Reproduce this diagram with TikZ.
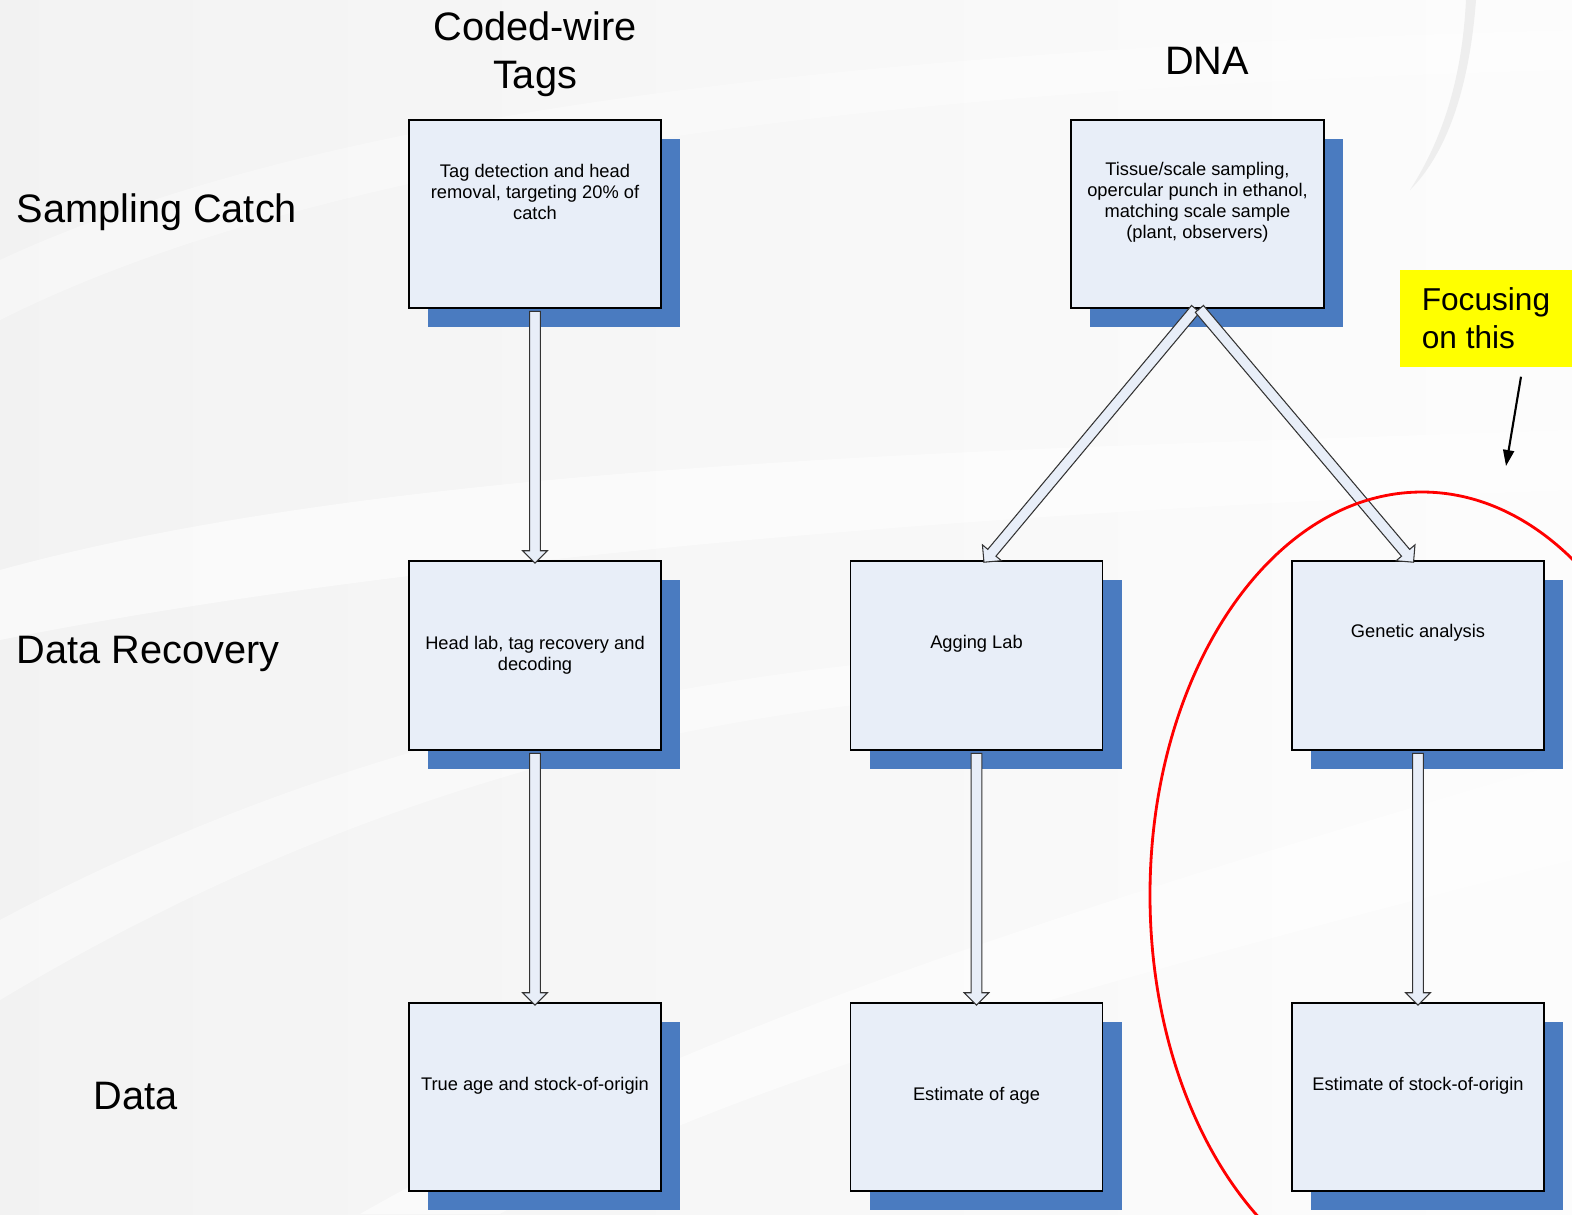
\documentclass[tikz,border=0pt]{standalone}
\usepackage{fontspec}
\setmainfont{Liberation Sans}
\usetikzlibrary{shapes.arrows,arrows.meta,positioning,calc,shadows}

\definecolor{boxfill}{RGB}{232,238,248}
\definecolor{shadowblue}{RGB}{74,123,192}
\definecolor{marker}{RGB}{255,255,0}

% hollow block arrow between two points
\newcommand{\flowarrow}[3]{%
  \path let \p1=(#2), \p2=(#3), \n1={veclen(\x2-\x1,\y2-\y1)}, \n2={atan2(\y2-\y1,\x2-\x1)} in
    node[flow, minimum height=\n1, rotate=\n2] (#1) at ($(\p1)!0.5!(\p2)$) {};}

\begin{document}
\begin{tikzpicture}[
    box/.style={rectangle, draw=black, line width=0.35pt, fill=boxfill, minimum width=2.52cm, minimum height=1.88cm, inner sep=0pt,
                drop shadow={shadow xshift=0.19cm, shadow yshift=-0.19cm, fill=shadowblue, opacity=1}},
    txt/.style={font=\fontsize{5.2}{6}\selectfont, align=center, inner sep=0pt},
    head/.style={font=\fontsize{11.3}{13.6}\selectfont, align=center, inner sep=0pt},
    flow/.style={single arrow, draw=black!80, line width=0.3pt, fill=boxfill, inner xsep=0pt, inner ysep=0.048cm,
                 single arrow head extend=0.07cm, single arrow tip angle=90, outer sep=0pt},
    focusbox/.style={fill=marker, font=\fontsize{9}{10.8}\selectfont, align=left, minimum width=1.72cm, minimum height=0.97cm, inner xsep=0.2cm},
    ptr/.style={-{Triangle[length=0.16cm,width=0.11cm]}, line width=0.6pt},
    ring/.style={draw=red, line width=0.8pt},
]

\useasboundingbox (0,0) rectangle (15.72,-12.14);
\clip (0,0) rectangle (15.72,-12.14);

% Background
\shade[left color=gray!10, right color=gray!2] (0,0) rectangle (15.72,-12.14);
\fill[white, opacity=0.55] (0,-5.7) .. controls (4,-4.6) and (10,-4.5) .. (15.72,-4.3) -- (15.72,-4.9) .. controls (10,-5.1) and (4,-5.6) .. (0,-6.4) -- cycle;
\fill[white, opacity=0.45] (0,-9.2) .. controls (3,-7.6) and (6,-6.9) .. (9,-6.6) -- (9,-7.0) .. controls (6,-7.3) and (3,-8.2) .. (0,-10.0) -- cycle;
\fill[white, opacity=0.5] (3.6,-12.14) .. controls (7,-10.2) and (11,-9.0) .. (15.72,-7.6) -- (15.72,-8.6) .. controls (11,-9.8) and (7,-10.9) .. (5,-12.14) -- cycle;
\fill[white, opacity=0.35] (0,-2.6) .. controls (3,-1.2) and (8,-0.5) .. (15.72,-0.3) -- (15.72,-0.7) .. controls (8,-0.9) and (3,-1.7) .. (0,-3.2) -- cycle;
\fill[gray!13] (14.76,0) .. controls (14.7,-0.8) and (14.5,-1.5) .. (14.1,-1.9) .. controls (14.42,-1.4) and (14.62,-0.8) .. (14.66,0) -- cycle;

% Sampling catch row
\node[box] (tag) at (5.35,-2.14) {};
\node[box, minimum width=2.53cm] (tissue) at (11.975,-2.14) {};

% Data recovery row
\node[box, minimum height=1.89cm] (headlab) at (5.35,-6.555) {};
\node[box, minimum height=1.89cm] (aging) at (9.765,-6.555) {};
\node[box, minimum height=1.89cm] (genetic) at (14.18,-6.555) {};

% Data row
\node[box] (trueage) at (5.35,-10.97) {};
\node[box] (estage) at (9.765,-10.97) {};
\node[box] (eststock) at (14.18,-10.97) {};

% Box texts
\node[txt] (tagtxt) at (5.35,-1.92) {Tag detection and head\\removal, targeting 20\% of\\catch};
\node[txt] (tissuetxt) at (11.975,-2.02) {Tissue/scale sampling,\\opercular punch in ethanol,\\matching scale sample\\(plant, observers)};
\node[txt] (headlabtxt) at (5.35,-6.55) {Head lab, tag recovery and\\decoding};
\node[txt] (agingtxt) at (9.765,-6.44) {Agging Lab};
\node[txt] (genetictxt) at (14.18,-6.33) {Genetic analysis};
\node[txt] (trueagetxt) at (5.35,-10.86) {True age and stock-of-origin};
\node[txt] (estagetxt) at (9.765,-10.96) {Estimate of age};
\node[txt] (eststocktxt) at (14.18,-10.86) {Estimate of stock-of-origin};

% Arrows
\flowarrow{a1}{tag.south}{headlab.north}
\flowarrow{a2}{headlab.south}{trueage.north}
\flowarrow{a3}{[yshift=0.02cm]tissue.south}{[xshift=0.09cm]aging.north}
\flowarrow{a4}{[yshift=0.02cm]tissue.south}{[xshift=-0.06cm]genetic.north}
\flowarrow{a5}{aging.south}{estage.north}
\flowarrow{a6}{genetic.south}{eststock.north}

% Column and row headings
\node[head] (cwt) at (5.35,-0.54) {Coded-wire\\Tags};
\node[head] (dna) at (12.07,-0.61) {DNA};
\node[head, anchor=west] (sampling) at (0.16,-2.12) {Sampling Catch};
\node[head, anchor=west] (recovery) at (0.16,-6.54) {Data Recovery};
\node[head, anchor=west] (data) at (0.93,-10.96) {Data};

% Focus note
\node[focusbox] (focus) at (14.86,-3.185) {Focusing\\on this};
\coordinate (focustip) at (15.06,-4.66);
\draw[ptr] ([xshift=0.35cm,yshift=-0.09cm]focus.south) -- (focustip);
\draw[ring] (14.22,-8.95) ellipse [x radius=2.72, y radius=4.03];

\end{tikzpicture}
\end{document}
